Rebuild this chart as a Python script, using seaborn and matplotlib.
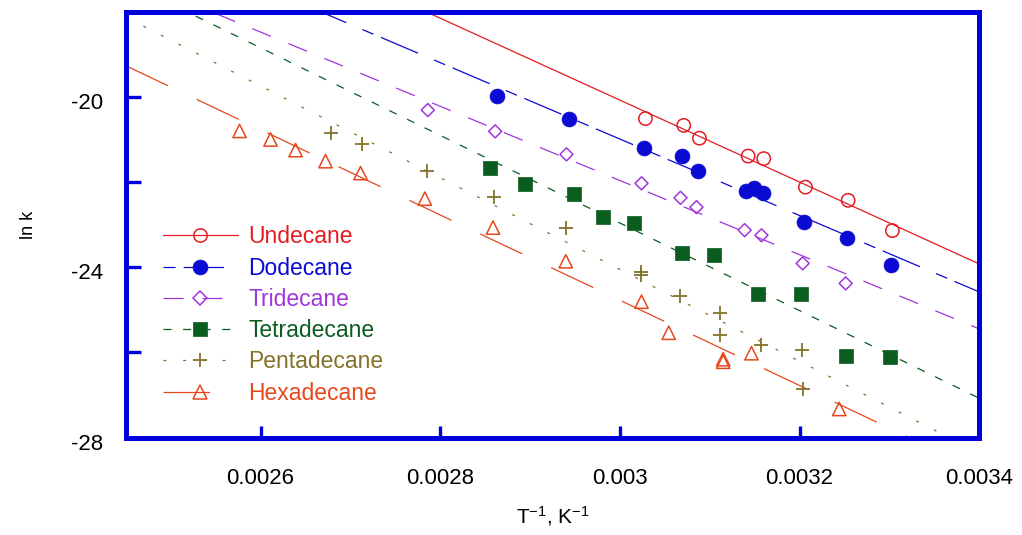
import numpy as np
import matplotlib
matplotlib.use("Agg")
import matplotlib.pyplot as plt
from matplotlib.lines import Line2D
from matplotlib.ticker import FixedLocator
from matplotlib.transforms import ScaledTranslation
import seaborn as sns

# Arrhenius data: inverse temperature (1/K) and ln k for each n-alkane
undecane_inv_t = [0.0030285, 0.0030711, 0.0030886, 0.0031428, 0.0031602,
                  0.0032066, 0.0032541, 0.0033034]
undecane_ln_k = [-20.51, -20.67, -20.97, -21.39, -21.45, -22.12, -22.43, -23.14]

dodecane_inv_t = [0.0028634, 0.0029431, 0.0030266, 0.0030694, 0.0030872,
                  0.0031406, 0.0031491, 0.0031591, 0.0032055, 0.0032533, 0.0033023]
dodecane_ln_k = [-19.98, -20.53, -21.21, -21.40, -21.73, -22.20, -22.13, -22.26,
                 -22.94, -23.32, -23.96]

tridecane_inv_t = [0.0027862, 0.0028612, 0.0029406, 0.0030241, 0.0030675,
                   0.0030853, 0.0031389, 0.0031576, 0.0032035, 0.0032514]
tridecane_ln_k = [-20.31, -20.81, -21.35, -22.03, -22.37, -22.59, -23.13, -23.25,
                  -23.91, -24.38]

tetradecane_inv_t = [0.0028552, 0.0028942, 0.0029487, 0.0029810, 0.0030155,
                     0.0030697, 0.0031045, 0.0031539, 0.0032021, 0.0032522, 0.0033012]
tetradecane_ln_k = [-21.66, -22.05, -22.27, -22.81, -22.97, -23.66, -23.71, -24.64,
                    -24.63, -26.08, -26.10]

pentadecane_inv_t = [0.0026779, 0.0027124, 0.0027848, 0.0028604, 0.0029402,
                     0.0030237, 0.0030237, 0.0030666, 0.0031114, 0.0031120,
                     0.0031576, 0.0032032, 0.0032036]
pentadecane_ln_k = [-20.85, -21.10, -21.73, -22.35, -23.08, -24.11, -24.18, -24.68,
                    -25.08, -25.59, -25.83, -25.94, -26.86]

hexadecane_inv_t = [0.0025766, 0.0026111, 0.0026390, 0.0026723, 0.0027113,
                    0.0027829, 0.0028588, 0.0029398, 0.0030241, 0.0030544,
                    0.0031150, 0.0031150, 0.0031465, 0.0032442]
hexadecane_ln_k = [-20.80, -21.00, -21.25, -21.51, -21.79, -22.39, -23.07, -23.86,
                   -24.81, -25.54, -26.16, -26.22, -26.02, -27.33]

names = ["Undecane", "Dodecane", "Tridecane", "Tetradecane", "Pentadecane", "Hexadecane"]
inv_t = [undecane_inv_t, dodecane_inv_t, tridecane_inv_t, tetradecane_inv_t,
         pentadecane_inv_t, hexadecane_inv_t]
ln_k = [undecane_ln_k, dodecane_ln_k, tridecane_ln_k, tetradecane_ln_k,
        pentadecane_ln_k, hexadecane_ln_k]

x_ticks = [0.0026, 0.0028, 0.0030, 0.0032, 0.0034]
x_tick_labels = ["0.0026", "0.0028", "0.003", "0.0032", "0.0034"]
y_ticks = [-28, -24, -20]
y_tick_labels = ["-28", "-24", "-20"]
y_minor_ticks = [-26, -22]

# Per-series look: colour, marker, marker area, filled?, dash pattern (pt)
styles = {
    "Undecane":    dict(color="#e41b22", marker="o", s=92, filled=False, dashes=None),
    "Dodecane":    dict(color="#0a0ad2", marker="o", s=115, filled=True, dashes=(8.7, 5.8, 29, 12.6)),
    "Tridecane":   dict(color="#a136dc", marker="D", s=44, filled=False, dashes=(14.5, 13.5)),
    "Tetradecane": dict(color="#0b5c1f", marker="s", s=112, filled=True, dashes=(5.8, 8.3)),
    "Pentadecane": dict(color="#84722a", marker="+", s=100, filled=None, dashes=(2.1, 12.1)),
    "Hexadecane":  dict(color="#e6481c", marker="^", s=92, filled=False, dashes=(33.5, 23)),
}

frame_blue = "#0000dc"

sns.set_theme(style="white")
plt.rcParams["font.family"] = ["Liberation Sans", "DejaVu Sans"]
plt.rcParams["mathtext.fontset"] = "custom"
plt.rcParams["mathtext.rm"] = "Liberation Sans"
plt.rcParams["mathtext.default"] = "regular"
plt.rcParams["lines.scale_dashes"] = False

fig = plt.figure(figsize=(10.22, 5.35), dpi=100)
ax = fig.add_axes([0.1231, 0.1822, 0.8350, 0.7959])
ax.set_xlim(0.00245, 0.0034)
ax.set_ylim(-28, -18)

handles = []
for name, xs, ys in zip(names, inv_t, ln_k):
    st = styles[name]
    c = st["color"]
    line_kws = dict(lw=0.9, zorder=2)
    if st["dashes"] is None:
        line_kws["linestyle"] = "-"
    else:
        line_kws["dashes"] = st["dashes"]
    # least-squares Arrhenius line across the full axis range
    sns.regplot(x=np.asarray(xs), y=np.asarray(ys), ax=ax, scatter=False, ci=None,
                truncate=False, color=c, line_kws=line_kws)

    if st["filled"] is True:
        sns.scatterplot(x=xs, y=ys, ax=ax, marker=st["marker"], s=st["s"], color=c,
                        edgecolor=c, linewidth=0.5, zorder=3)
        mfc, mew = c, 0.5
    elif st["filled"] is False:
        sns.scatterplot(x=xs, y=ys, ax=ax, marker=st["marker"], s=st["s"], color=c,
                        facecolor="none", edgecolor=c, linewidth=1.1, zorder=3)
        mfc, mew = "none", 1.1
    else:
        sns.scatterplot(x=xs, y=ys, ax=ax, marker=st["marker"], s=st["s"], color=c,
                        linewidth=1.3, zorder=3)
        mfc, mew = c, 1.3

    h_kws = dict(color=c, lw=0.9, marker=st["marker"], markersize=np.sqrt(st["s"]),
                 markerfacecolor=mfc, markeredgecolor=c, markeredgewidth=mew)
    if st["dashes"] is None:
        h_kws["linestyle"] = "-"
    else:
        h_kws["dashes"] = st["dashes"]
    handles.append(Line2D([], [], **h_kws))

ax.set_xlim(0.00245, 0.0034)
ax.set_ylim(-28, -18)

ax.xaxis.set_major_locator(FixedLocator(x_ticks))
ax.set_xticklabels(x_tick_labels)
ax.yaxis.set_major_locator(FixedLocator(y_ticks))
ax.set_yticklabels(y_tick_labels)
ax.yaxis.set_minor_locator(FixedLocator(y_minor_ticks))

ax.tick_params(axis="both", which="both", direction="in", color=frame_blue,
               width=2.4, bottom=True, left=True, top=False, right=False,
               labelcolor="black", labelsize=16)
ax.tick_params(axis="x", which="major", length=8.9, pad=22)
ax.tick_params(axis="y", which="both", length=11, pad=16.5)

shift = ScaledTranslation(0, -3 / 72, fig.dpi_scale_trans)
for lab in ax.get_yticklabels():
    lab.set_transform(lab.get_transform() + shift)

for sp in ax.spines.values():
    sp.set_color(frame_blue)
    sp.set_linewidth(3.6)
    sp.set_zorder(5)

ax.set_xlabel("T$^{-1}$, K$^{-1}$", fontsize=15, color="black", labelpad=11)
ax.set_ylabel("ln k", fontsize=13, color="black", labelpad=24)

ax.legend(handles, names, loc="upper left", bbox_to_anchor=(0.0436, 0.498),
          frameon=False, fontsize=16.5, handlelength=3.27, handletextpad=0.44,
          labelspacing=0.36, borderpad=0, borderaxespad=0, labelcolor="linecolor",
          numpoints=1)

fig.savefig("out.png", dpi=100, facecolor="white")
